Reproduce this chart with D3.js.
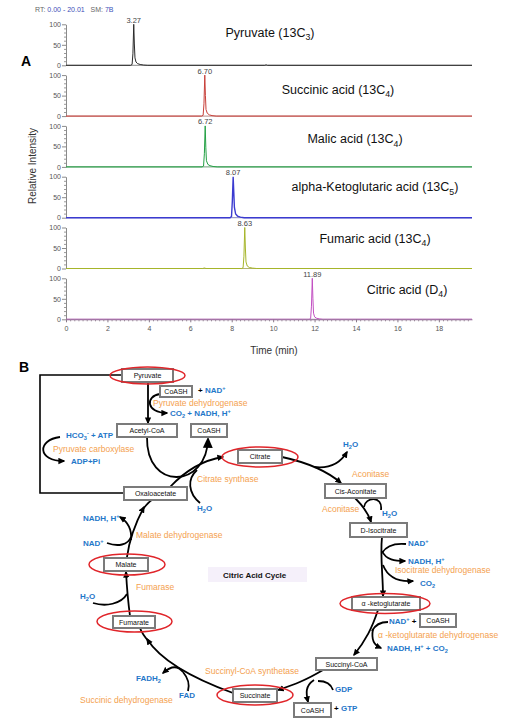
<!DOCTYPE html>
<html><head><meta charset="utf-8">
<script src="https://cdn.jsdelivr.net/npm/d3@7"></script>
<style>
body{margin:0;background:#fff}
svg{display:block;font-family:"Liberation Sans",Arial,Helvetica,sans-serif}
text{white-space:pre}
</style>
</head><body>
<svg id="c" width="506" height="723"></svg>
<script>
// ================= PANEL A DATA =================
const rtHeader = [["RT: ", "#666"], ["0.00 - 20.01", "#3b4fb8"], ["   SM: ", "#666"], ["7B", "#3b4fb8"]];
const compounds = ["Pyruvate (13C_{3})", "Succinic acid (13C_{4})", "Malic acid (13C_{4})",
                   "alpha-Ketoglutaric acid (13C_{5})", "Fumaric acid (13C_{4})", "Citric acid (D_{4})"];
const peakLabels = ["3.27", "6.70", "6.72", "8.07", "8.63", "11.89"];
const peakRT = [3.27, 6.70, 6.72, 8.07, 8.63, 11.89];
const xTicks = [0, 2, 4, 6, 8, 10, 12, 14, 16, 18];
const yTicks = [0, 50, 100];
const yMinor = [10, 20, 30, 40, 60, 70, 80, 90];
const timeEnd = 19.6;
// [time (min), relative intensity (%)]
const pyruvate = [[0,0],[3.12,0],[3.19,2],[3.23,28],[3.27,100],[3.30,52],[3.33,18],[3.38,8],[3.46,4],[3.58,2],[3.75,0.6],[3.95,0],[9.6,0],[9.66,1.2],[9.72,0],[19.6,0]];
const succinic = [[0,0],[6.55,0],[6.62,2],[6.66,30],[6.70,100],[6.73,50],[6.76,16],[6.82,7],[6.92,3],[7.05,1.2],[7.25,0],[19.6,0]];
const malic    = [[0,0],[6.57,0],[6.64,2],[6.68,32],[6.72,100],[6.75,48],[6.78,15],[6.85,6],[6.95,3],[7.1,1],[7.3,0],[19.6,0]];
const akg      = [[0,0],[7.92,0],[7.99,3],[8.03,40],[8.07,100],[8.10,62],[8.13,25],[8.19,9],[8.28,4],[8.42,1.5],[8.6,0],[19.6,0]];
const fumaric  = [[0,0],[6.6,0],[6.68,1.2],[6.76,0],[8.48,0],[8.55,2],[8.59,30],[8.63,100],[8.66,50],[8.69,16],[8.75,6],[8.85,2.5],[9.0,1],[9.2,0],[19.6,0]];
const citric   = [[0,0],[11.74,0],[11.81,2],[11.85,32],[11.89,100],[11.92,50],[11.95,15],[12.0,6],[12.1,2.5],[12.25,0.8],[12.4,0],[19.6,0]];
const traces = [pyruvate, succinic, malic, akg, fumaric, citric];

// ================= PANEL B DATA =================
const nodes = [
  {id:"pyr", label:"Pyruvate", measured:true},
  {id:"coa1", label:"CoASH"},
  {id:"acoa", label:"Acetyl-CoA"},
  {id:"coa2", label:"CoASH"},
  {id:"cit", label:"Citrate", measured:true},
  {id:"cis", label:"Cis-Aconitate"},
  {id:"iso", label:"D-Isocitrate"},
  {id:"akg", label:"α -ketoglutarate", measured:true},
  {id:"coa3", label:"CoASH"},
  {id:"scoa", label:"Succinyl-CoA"},
  {id:"suc", label:"Succinate", measured:true},
  {id:"coa4", label:"CoASH"},
  {id:"fum", label:"Fumarate", measured:true},
  {id:"mal", label:"Malate", measured:true},
  {id:"oaa", label:"Oxaloacetate"}
];
const enzymes = [
  {id:"pdh", label:"Pyruvate dehydrogenase"},
  {id:"pc", label:"Pyruvate carboxylase"},
  {id:"cs", label:"Citrate synthase"},
  {id:"aco1", label:"Aconitase"},
  {id:"aco2", label:"Aconitase"},
  {id:"idh", label:"Isocitrate dehydrogenase"},
  {id:"kgdh", label:"α -ketoglutarate dehydrogenase"},
  {id:"scs", label:"Succinyl-CoA synthetase"},
  {id:"sdh", label:"Succinic dehydrogenase"},
  {id:"fh", label:"Fumarase"},
  {id:"mdh", label:"Malate dehydrogenase"}
];
// cofactor labels: parts of [text, "b" blue | "k" black]
const cofactors = [
  {id:"c1", parts:[["+ ","k"],["NAD^{+}","b"]]},
  {id:"c2", parts:[["CO_{2} + NADH, H^{+}","b"]]},
  {id:"c3", parts:[["HCO_{3}^{-} + ATP","b"]]},
  {id:"c4", parts:[["ADP+Pi","b"]]},
  {id:"c5", parts:[["H_{2}O","b"]]},
  {id:"c6", parts:[["H_{2}O","b"]]},
  {id:"c7", parts:[["H_{2}O","b"]]},
  {id:"c8", parts:[["NAD^{+}","b"]]},
  {id:"c9", parts:[["NADH, H^{+}","b"]]},
  {id:"c10", parts:[["CO_{2}","b"]]},
  {id:"c11", parts:[["NAD^{+}","b"],[" +","k"]]},
  {id:"c12", parts:[["NADH, H^{+} + CO_{2}","b"]]},
  {id:"c13", parts:[["GDP","b"]]},
  {id:"c14", parts:[["+ ","k"],["GTP","b"]]},
  {id:"c15", parts:[["FADH_{2}","b"]]},
  {id:"c16", parts:[["FAD","b"]]},
  {id:"c17", parts:[["H_{2}O","b"]]},
  {id:"c18", parts:[["NAD^{+}","b"]]},
  {id:"c19", parts:[["NADH, H^{+}","b"]]}
];
const cycleTitle = "Citric Acid Cycle";

// ================= LAYOUT (positions / styles) =================
const BLUE = "#1f77c9", ORANGE = "#f4a14f", RED = "#e0252a", GREY = "#7b7b7b";
const traceColors = ["#2a2a2a", "#c8403a", "#23a044", "#3b3bd0", "#a6b52a", "#c24fc2"];
const baseColors  = ["#8a8a8a", "#b98e8a", "#6e9c79", "#8585c0", "#b3b374", "#9a7a9e"];
const labelPos = [[270, 36.5], [338, 93.5], [355, 143], [375, 191], [375, 242.5], [407, 293.5]];
const boxPos = {
  pyr:[122,369,51,13], coa1:[160,386,32,11], acoa:[117,424,60,13], coa2:[191,424,36,13],
  cit:[238,450,44,13], cis:[325,484,61,14], iso:[350,523,57,14], akg:[352,597,68,13],
  coa3:[420,614,36,13], scoa:[316,658,61,12], suc:[233,689,44,13], coa4:[294,703,37,14],
  fum:[113,616,42,12], mal:[104,558,44,13], oaa:[124,487,63,13]
};
const ellPos = {
  pyr:[147.5,375.5,37.5,8.5], cit:[260,457,38,10], akg:[385,603.5,45,10],
  suc:[255,695,38,10], fum:[134.5,621.5,37.5,10.5], mal:[127,564.5,38,10.5]
};
const enzPos = {
  pdh:[153,406], pc:[53,452], cs:[197,482], aco1:[352,477], aco2:[322,512], idh:[395,573],
  kgdh:[378,638], scs:[205,674], sdh:[80,703], fh:[136,590], mdh:[136,538]
};
const cofPos = {
  c1:[198,393], c2:[170,416], c3:[66,438], c4:[71,464], c5:[343,447], c6:[197,511], c7:[382,516],
  c8:[408,546], c9:[408,564], c10:[420,586], c11:[389,624], c12:[387,651], c13:[335,692],
  c14:[334,711], c15:[136,681], c16:[179,698], c17:[80,599], c18:[83,546], c19:[83,521]
};
// connector geometry: [path, arrow type]
const connectors = [
  ["M148,382 L148,423", "s"],
  ["M160,394 C145,396 146,413 167,413", "s"],
  ["M60,437 C37,440 37,461 64,461", "s"],
  ["M147,437 C146,492 207,488 208,439", "L"],
  ["M170,487 C186,470 204,460 223,457", "s"],
  ["M200,503 C188,493 187,479 197,470", null],
  ["M282,457 C305,462 326,470 341,483", "s"],
  ["M314,467 C330,469 341,462 347,452", "s"],
  ["M355,498 C362,505 368,512 371,522", "s"],
  ["M364,507 C365,497 383,495 381,510", null],
  ["M382,537 C380,556 383,575 383,596", "s"],
  ["M406,544 C395,543 386,546 382,553", null],
  ["M382,551 C386,560 395,561 405,561", "s"],
  ["M383,565 C388,578 400,582 413,581", "s"],
  ["M378,610 C372,628 366,640 354,655", "s"],
  ["M388,622 C380,622 375,625 372,631", null],
  ["M373,629 C371,640 374,645 381,648", "s"],
  ["M323,670 C306,680 296,684 278,690", "s"],
  ["M333,690 C331,684 326,681 318,681", null],
  ["M314,680 C305,686 306,693 308,702", "s"],
  ["M233,693 C200,681 163,664 147,639", "s"],
  ["M149,642 C144,636 141,631 140,628", null],
  ["M188,691 C190,684 188,678 183,672", null],
  ["M183,672 C178,666 172,665 163,673", "s"],
  ["M130,616 C128,601 127,590 126,572", "s"],
  ["M93,603 C106,607 121,604 127,594", null],
  ["M127,557 C130,535 137,520 144,507", "s"],
  ["M143,509 C147,504 150,501 152,500", null],
  ["M107,543 C118,547 128,545 131,537", null],
  ["M131,540 C132,530 128,522 120,517", "s"],
  ["M122,375 L40,375 L40,493 L124,493", null]
];

// ================= DRAW =================
const svg = d3.select("#c");

function rich(textSel, parts, size) {
  let shift = 0;
  parts.forEach(([str, color]) => {
    str.split(/(_\{[^}]*\}|\^\{[^}]*\})/).filter(s => s.length).forEach(seg => {
      let target = 0, txt = seg, fs = size;
      if (seg.startsWith("_{")) { target = size * 0.28; txt = seg.slice(2, -1); fs = size * 0.7; }
      else if (seg.startsWith("^{")) { target = -size * 0.38; txt = seg.slice(2, -1); fs = size * 0.7; }
      textSel.append("tspan").attr("dy", target - shift).attr("font-size", fs).attr("fill", color).text(txt);
      shift = target;
    });
  });
}

// RT header
rich(svg.append("text").attr("x", 35).attr("y", 12).attr("font-size", 7), rtHeader, 7);

const x = d3.scaleLinear().domain([0, timeEnd]).range([66, 472]);
const line = d3.line().x(d => x(d[0])).y(d => y0(d[1]));
let y0;

compounds.forEach((name, i) => {
  const top = 24.3 + i * 50.8, bot = top + 41;
  const y = d3.scaleLinear().domain([0, 100]).range([bot, top]);
  y0 = y;
  const g = svg.append("g");
  const ya = g.append("g").attr("transform", "translate(66,0)")
    .call(d3.axisLeft(y).tickValues(yTicks).tickSize(4).tickSizeOuter(0).tickPadding(1));
  ya.select(".domain").attr("stroke", "#8a8a8a");
  ya.selectAll(".tick line").attr("stroke", "#8a8a8a");
  ya.selectAll(".tick text").attr("font-size", 7).attr("fill", "#555").attr("font-family", null);
  const ym = g.append("g").attr("transform", "translate(66,0)")
    .call(d3.axisLeft(y).tickValues(yMinor).tickSize(2).tickFormat(""));
  ym.select(".domain").remove();
  ym.selectAll(".tick line").attr("stroke", "#9a9a9a");
  // baseline
  g.append("line").attr("x1", x(0)).attr("x2", x(timeEnd)).attr("y1", y(0)).attr("y2", y(0))
    .attr("stroke", baseColors[i]).attr("stroke-width", 1);
  // trace
  g.append("path").datum(traces[i]).attr("d", d3.line().x(d => x(d[0])).y(d => y(d[1])))
    .attr("fill", "none").attr("stroke", traceColors[i]).attr("stroke-width", i === 3 ? 1.4 : 1);
  // peak label
  g.append("text").attr("x", x(peakRT[i])).attr("y", top - 1.5).attr("text-anchor", "middle")
    .attr("font-size", 7.5).attr("fill", "#444").text(peakLabels[i]);
  // compound label
  rich(g.append("text").attr("x", labelPos[i][0]).attr("y", labelPos[i][1]).attr("text-anchor", "middle")
    .attr("font-size", 12.5), [[name, "#111"]], 12.5);
  if (i === compounds.length - 1) {
    const xa = g.append("g").attr("transform", `translate(0,${bot})`)
      .call(d3.axisBottom(x).tickValues(xTicks).tickSize(3).tickSizeOuter(0).tickPadding(4));
    xa.select(".domain").attr("stroke", baseColors[i]);
    xa.selectAll(".tick line").attr("stroke", "#8a7a8a");
    xa.selectAll(".tick text").attr("font-size", 7).attr("fill", "#555").attr("font-family", null);
    const minor = d3.range(0, 98).map(k => k * 0.2).filter(v => Math.abs(v / 2 - Math.round(v / 2)) > 1e-6);
    const xm = g.append("g").attr("transform", `translate(0,${bot})`)
      .call(d3.axisBottom(x).tickValues(minor).tickSize(2).tickFormat(""));
    xm.select(".domain").remove();
    xm.selectAll(".tick line").attr("stroke", "#9a8a9a");
  }
});

svg.append("text").attr("x", 274).attr("y", 354).attr("text-anchor", "middle").attr("font-size", 10)
  .attr("fill", "#333").text("Time (min)");
svg.append("text").attr("transform", "translate(36,166) rotate(-90)").attr("text-anchor", "middle")
  .attr("font-size", 10).attr("fill", "#333").text("Relative Intensity");
svg.append("text").attr("x", 21).attr("y", 66).attr("font-size", 14).attr("font-weight", "bold").text("A");

// ---------- Panel B
svg.append("text").attr("x", 19).attr("y", 372).attr("font-size", 14).attr("font-weight", "bold").text("B");

const defs = svg.append("defs");
[["s", 7], ["L", 11]].forEach(([id, sz]) => {
  defs.append("marker").attr("id", "arr" + id).attr("viewBox", "0 0 10 10").attr("refX", 8).attr("refY", 5)
    .attr("markerWidth", sz).attr("markerHeight", sz).attr("markerUnits", "userSpaceOnUse").attr("orient", "auto")
    .append("path").attr("d", "M0,0.5 L10,5 L0,9.5 z").attr("fill", "#000");
});

// cycle title
svg.append("rect").attr("x", 208).attr("y", 567).attr("width", 99).attr("height", 15).attr("fill", "#f5f0fa");
svg.append("text").attr("x", 223).attr("y", 577.5).attr("font-size", 8).attr("font-weight", "bold").attr("fill", "#111").text(cycleTitle);

const cg = svg.append("g");
cg.selectAll("path").data(connectors).join("path")
  .attr("d", d => d[0]).attr("fill", "none").attr("stroke", "#000")
  .attr("stroke-width", (d, i) => i === connectors.length - 1 ? 1.6 : 1.8)
  .attr("marker-end", d => d[1] ? `url(#arr${d[1]})` : null);

// boxes
const bg = svg.append("g");
nodes.forEach(n => {
  const [bx, by, bw, bh] = boxPos[n.id];
  bg.append("rect").attr("x", bx).attr("y", by).attr("width", bw).attr("height", bh)
    .attr("fill", "#fff").attr("stroke", GREY).attr("stroke-width", 2);
  bg.append("text").attr("x", bx + bw / 2).attr("y", by + bh / 2 + 2.5).attr("text-anchor", "middle")
    .attr("font-size", 7).attr("fill", "#111").text(n.label);
});
nodes.filter(n => n.measured).forEach(n => {
  const [cx, cy, rx, ry] = ellPos[n.id];
  bg.append("ellipse").attr("cx", cx).attr("cy", cy).attr("rx", rx).attr("ry", ry)
    .attr("fill", "none").attr("stroke", RED).attr("stroke-width", 1.5);
});

// enzymes
enzymes.forEach(e => {
  svg.append("text").attr("x", enzPos[e.id][0]).attr("y", enzPos[e.id][1])
    .attr("font-size", 8.5).attr("fill", ORANGE).text(e.label);
});
// cofactors
cofactors.forEach(c => {
  const t = svg.append("text").attr("x", cofPos[c.id][0]).attr("y", cofPos[c.id][1])
    .attr("font-size", 8).attr("font-weight", "bold");
  rich(t, c.parts.map(([s, k]) => [s, k === "b" ? BLUE : "#000"]), 8);
});
</script>
</body></html>
